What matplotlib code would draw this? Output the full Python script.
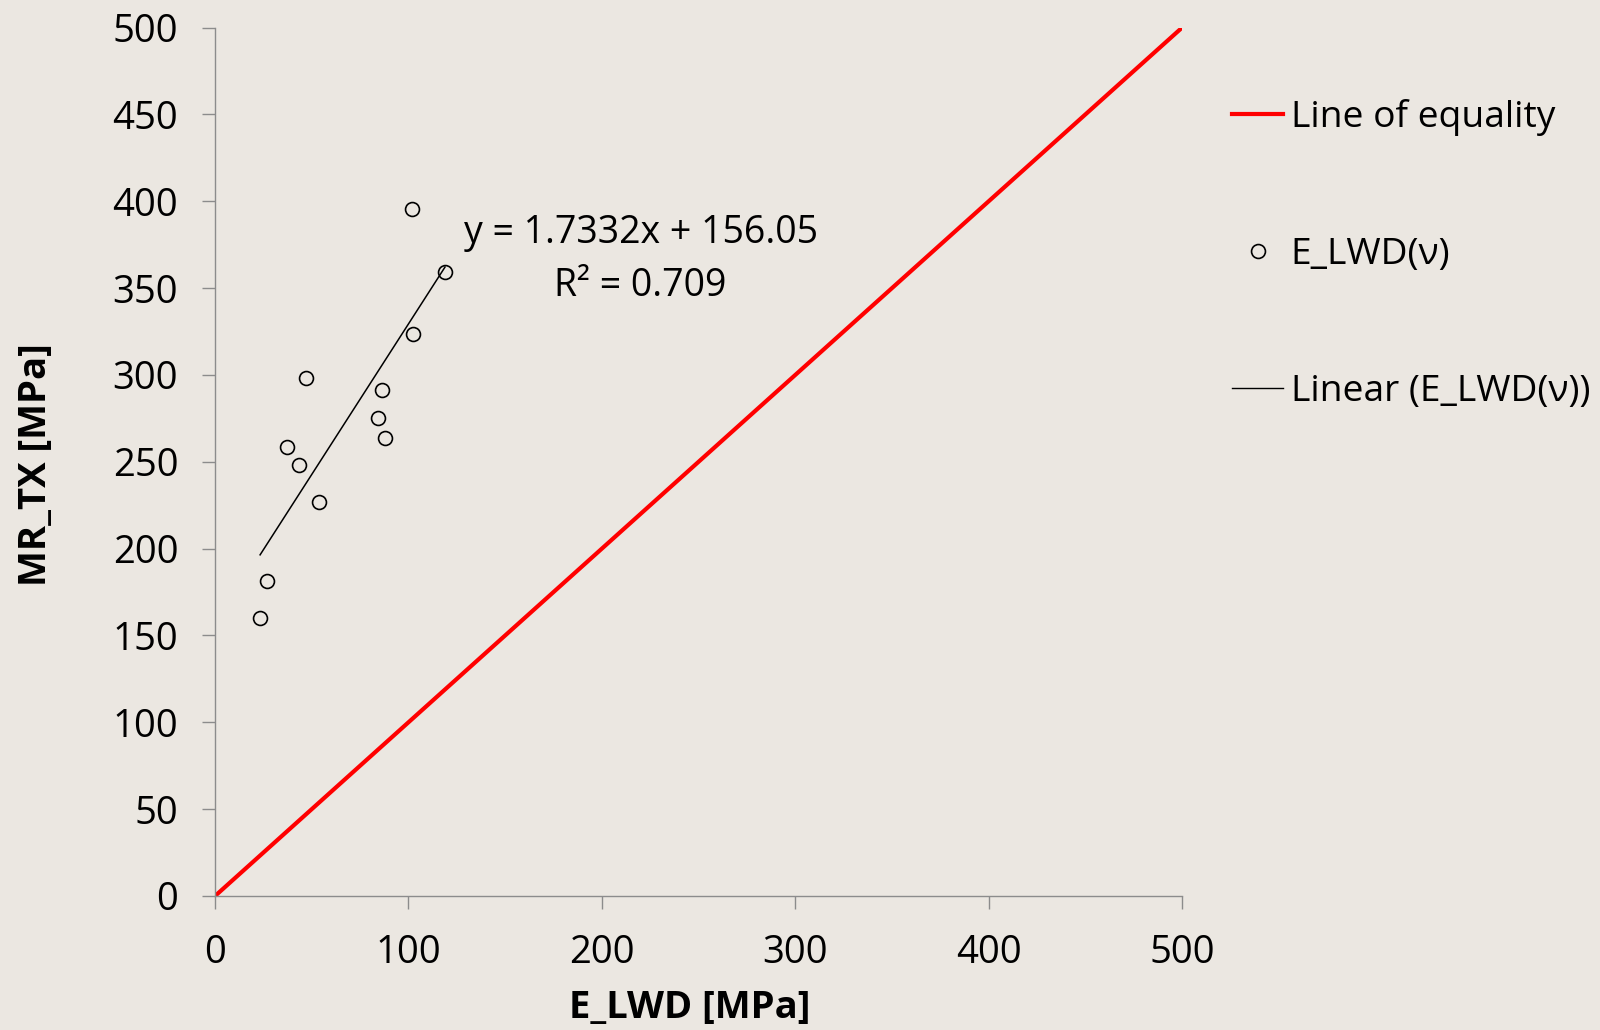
import numpy as np
import matplotlib.pyplot as plt
from matplotlib.lines import Line2D

# E_LWD vs MR_TX measurements [MPa]
e_lwd = [23.3, 26.7, 37.2, 43.4, 47.2, 53.6, 84.5, 86.2, 88.1, 102.0, 102.4, 118.9]
mr_tx = [159.9, 181.4, 258.3, 248.0, 298.4, 226.9, 275.2, 291.2, 263.9, 395.4, 323.6, 359.5]

# linear trend as reported
slope = 1.7332
intercept = 156.05
r2 = 0.709

equality = [0, 500]
ticks = [0, 50, 100, 150, 200, 250, 300, 350, 400, 450, 500]

bg = '#ebe7e1'
plt.rcParams['font.family'] = ['Open Sans', 'DejaVu Sans']

fig = plt.figure(figsize=(16, 10.3), dpi=100, facecolor=bg)
ax = fig.add_axes([0.1344, 0.1301, 0.6044, 0.8431])
ax.set_facecolor(bg)

ax.plot(equality, equality, color='#ff0000', lw=3, solid_capstyle='butt', zorder=2)
xs = np.array([min(e_lwd), max(e_lwd)])
ax.plot(xs, slope * xs + intercept, color='black', lw=1.1, zorder=3)
ax.plot(e_lwd, mr_tx, 'o', ms=10, mfc='none', mec='black', mew=1.2, zorder=4)

# trendline equation
ax.text(220, 381.5, f'y = {slope}x + {intercept}', fontsize=27, ha='center', va='center')
ax.text(220, 351.5, f'R² = {r2}', fontsize=27, ha='center', va='center')

ax.set_xlim(0, 500)
ax.set_ylim(0, 500)
ax.set_xticks(ticks[::2])
ax.set_yticks(ticks)
for s in ['top', 'right']:
    ax.spines[s].set_visible(False)
for s in ['left', 'bottom']:
    ax.spines[s].set_color('#8c8c8c')
    ax.spines[s].set_linewidth(1)
ax.tick_params(direction='out', length=9.4, width=1, color='#8c8c8c',
               labelsize=27.5, pad=17)
ax.tick_params(axis='x', pad=18)

fig.text(0.431, 0.0214, 'E_LWD [MPa]', fontsize=27.5, fontweight='bold',
         ha='center', va='center')
fig.text(0.0223, 0.5485, 'MR_TX [MPa]', fontsize=27.5, fontweight='bold',
         ha='center', va='center', rotation=90)

handles = [
    Line2D([], [], color='#ff0000', lw=3),
    Line2D([], [], ls='none', marker='o', ms=10, mfc='none', mec='black', mew=1.2),
    Line2D([], [], color='black', lw=1),
]
labels = ['Line of equality', 'E_LWD(ν)', 'Linear (E_LWD(ν))']
fig.legend(handles, labels, loc='upper left', bbox_to_anchor=(0.761, 0.918),
           frameon=False, fontsize=26.7, labelspacing=2.72, handlelength=1.37,
           handletextpad=0.2, borderaxespad=0)

fig.savefig('out.png', dpi=100, facecolor=bg)
